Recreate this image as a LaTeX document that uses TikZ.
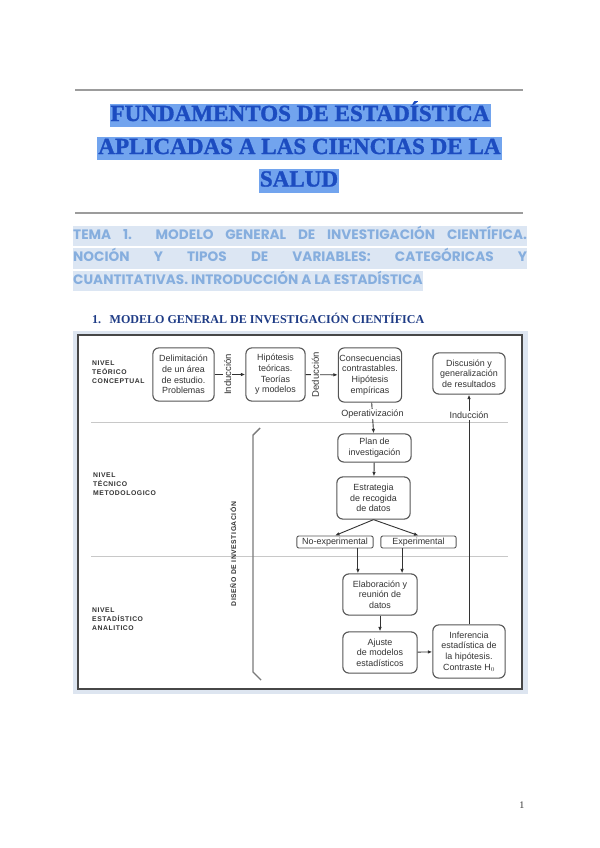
\documentclass[tikz,border=0pt]{standalone}
\usepackage{fontspec}
\setmainfont{Liberation Serif}
\newfontfamily\ttlfont{Liberation Serif}[BoldFeatures={FakeBold=1.3}]
\newfontfamily\figfont{Liberation Sans}
\newfontfamily\lvlfont[LetterSpace=8]{Liberation Sans}
\newfontfamily\temafont{Poppins}
\usetikzlibrary{positioning,arrows.meta,calc}
\definecolor{titleblue}{HTML}{1C4CC0}
\definecolor{titlehl}{HTML}{72A4EE}
\definecolor{temablue}{HTML}{86AEDE}
\definecolor{temahl}{HTML}{DCE6F3}
\definecolor{secblue}{HTML}{1F3C86}
\definecolor{rulegray}{HTML}{9C9C9C}
\definecolor{figbg}{HTML}{DDE5F0}
\definecolor{ink}{HTML}{333333}
\definecolor{boxline}{HTML}{555555}
\definecolor{divgray}{HTML}{C8C8C8}
\definecolor{bracegray}{HTML}{7A7A7A}
\newcommand{\bx}{\figfont\fontsize{8.9pt}{10.6pt}\selectfont}
\tikzset{
  fbox/.style={draw=boxline, line width=1.1pt, rounded corners=6pt, fill=white,
    align=center, inner sep=0.5pt, text=ink, font=\bx},
  tagbox/.style={fbox, rounded corners=2pt, line width=0.9pt, minimum height=12},
  arr/.style={-{Latex[length=4.5pt,width=3.6pt]}, line width=0.9pt, draw=ink},
  vlab/.style={rotate=90, fill=white, inner sep=1pt, text=ink,
    font=\figfont\fontsize{9.5pt}{10pt}\selectfont},
  hlab/.style={fill=white, inner sep=1pt, text=ink, font=\figfont\fontsize{9pt}{10pt}\selectfont},
  lvl/.style={align=left, anchor=north west, inner sep=0pt, text=ink,
    font=\lvlfont\bfseries\fontsize{6.8pt}{9pt}\selectfont},
  divider/.style={draw=divgray, line width=0.8pt},
  ttl/.style={fill=titlehl, text=titleblue, inner xsep=1pt, inner ysep=0pt,
    text height=17pt, text depth=6pt, font=\ttlfont\bfseries\fontsize{23pt}{26pt}\selectfont},
  tema/.style={fill=temahl, text=temablue, inner sep=0pt, anchor=west,
    text height=13.5pt, text depth=7pt, font=\temafont\bfseries\fontsize{13.6pt}{15pt}\selectfont},
}

\begin{document}
\begin{tikzpicture}[x=0.035cm, y=-0.035cm]
  \useasboundingbox[fill=white] (0,0) rectangle (600,848);
  % cabecera
  \draw[rulegray, line width=1.3pt] (75,90) -- (523,90);
  \node[ttl] (ttl1) at (300,115.5) {FUNDAMENTOS DE ESTADÍSTICA};
  \node[ttl] (ttl2) at (299.5,148.5) {APLICADAS A LAS CIENCIAS DE LA};
  \node[ttl] (ttl3) at (299,181) {SALUD};
  \draw[rulegray, line width=1.3pt] (75,213) -- (523,213);
  \node[tema] (tema1) at (73,236) {\makebox[452pt][s]{TEMA 1.\ \ MODELO GENERAL DE INVESTIGACIÓN CIENTÍFICA.}};
  \node[tema] (tema2) at (73,258.5) {\makebox[452pt][s]{NOCIÓN Y TIPOS DE VARIABLES: CATEGÓRICAS Y}};
  \node[tema] (tema3) at (73,281) {CUANTITATIVAS. INTRODUCCIÓN A LA ESTADÍSTICA};
  \node[anchor=west, inner sep=0pt, text=secblue, font=\bfseries\fontsize{12pt}{14pt}\selectfont]
    (sec) at (92,318) {1.\hspace{0.7em}MODELO GENERAL DE INVESTIGACIÓN CIENTÍFICA};

  % figura
  \fill[figbg] (73,331) rectangle (528,694);
  \draw[fill=white, draw=ink!90, line width=1.2pt] (78,335) rectangle (522,689);
  \draw[divider] (91,422) -- (508,422);
  \draw[divider] (91,556) -- (508,556);
  \draw[bracegray, line width=1.4pt] (260,428) -- (253,435) -- (253,672) -- (261,680);

  \node[lvl] (nivA) at (92,361) {NIVEL\\TEÓRICO\\CONCEPTUAL};
  \node[lvl] (nivB) at (93,473) {NIVEL\\TÉCNICO\\METODOLOGICO};
  \node[lvl] (nivC) at (92,608) {NIVEL\\ESTADÍSTICO\\ANALITICO};
  \node[lvl, anchor=center, rotate=90] (diseno) at (233,554) {DISEÑO DE INVESTIGACIÓN};

  \node[fbox, minimum width=61, minimum height=53] (delim) at (183.5,374.5) {Delimitación\\de un área\\de estudio.\\Problemas};
  \node[fbox, minimum width=59, minimum height=53] (hipo) at (275.5,374.5) {Hipótesis\\teóricas.\\Teorías\\y modelos};
  \node[fbox, minimum width=63, minimum height=54] (conse) at (370,375) {Consecuencias\\contrastables.\\Hipótesis\\empíricas};
  \node[fbox, minimum width=72, minimum height=41] (discu) at (469,373.5) {Discusión y\\generalización\\de resultados};
  \node[fbox, minimum width=73, minimum height=28] (plan) at (374.5,448) {Plan de\\investigación};
  \node[fbox, minimum width=73, minimum height=42] (estra) at (373.5,498) {Estrategia\\de recogida\\de datos};
  \node[tagbox, minimum width=76] (noexp) at (335,542) {No-experimental};
  \node[tagbox, minimum width=75] (exper) at (418.5,542) {Experimental};
  \node[fbox, minimum width=74, minimum height=41] (elab) at (380,594.5) {Elaboración y\\reunión de\\datos};
  \node[fbox, minimum width=74, minimum height=41] (ajuste) at (380,652.5) {Ajuste\\de modelos\\estadísticos};
  \node[fbox, minimum width=72, minimum height=53] (infer) at (469,651.5) {Inferencia\\estadística de\\la hipótesis.\\Contraste H$_0$};

  \draw[arr] (delim) -- node[vlab, pos=0.42]{Inducción} (hipo);
  \draw[arr] (hipo) -- node[vlab, pos=0.3]{Deducción} (conse);
  \draw[arr] (conse) -- node[hlab, pos=0.37]{Operativización} (plan);
  \draw[arr] (plan) -- (estra);
  \draw[arr] (estra.south) -- (noexp.north);
  \draw[arr] (estra.south) -- (exper.north);
  \draw[arr] ([xshift=-22pt]elab.north |- noexp.south) -- ([xshift=-22pt]elab.north);
  \draw[arr] ([xshift=22pt]elab.north |- exper.south) -- ([xshift=22pt]elab.north);
  \draw[arr] (elab) -- (ajuste);
  \draw[arr] (ajuste) -- (infer);
  \draw[arr] (infer) -- node[hlab, pos=0.91]{Inducción} (discu);

  \node[text=ink, font=\fontsize{10pt}{12pt}\selectfont] (pnum) at (522,805) {1};
\end{tikzpicture}
\end{document}
